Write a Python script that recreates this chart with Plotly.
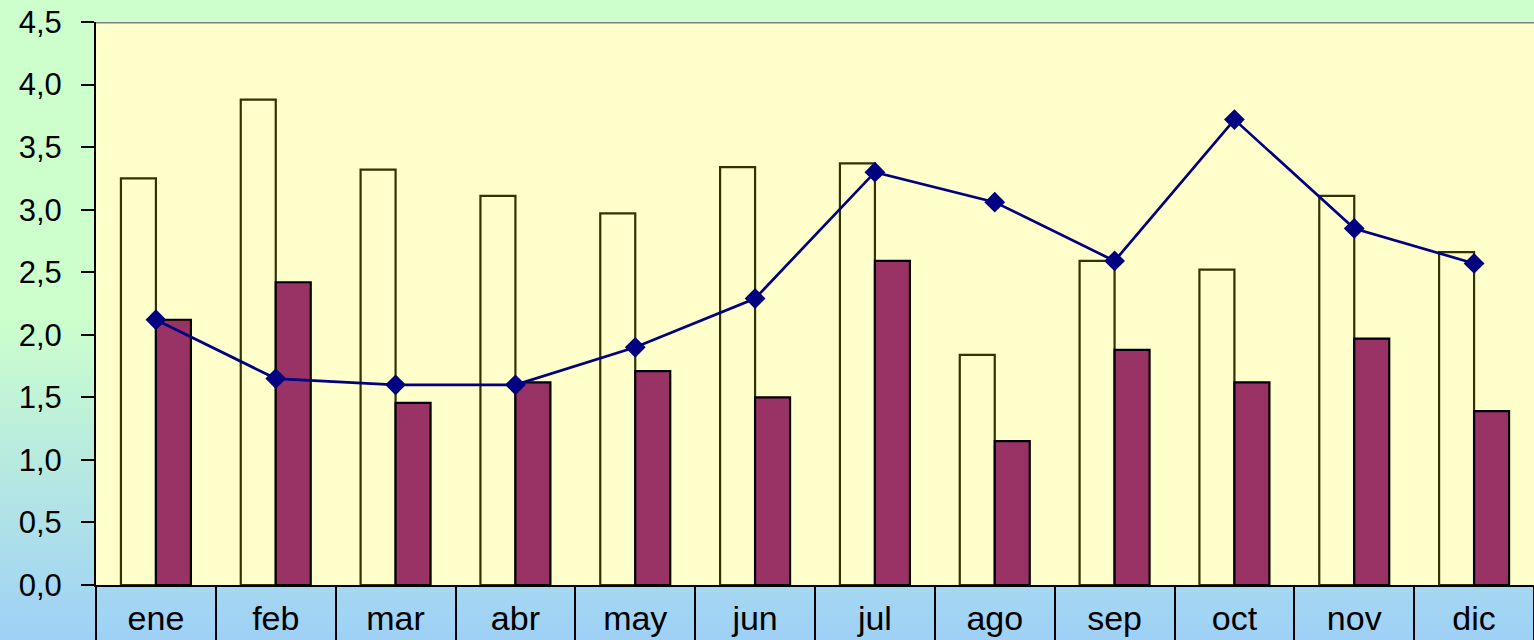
import plotly.graph_objects as go

meses = ["ene", "feb", "mar", "abr", "may", "jun", "jul", "ago", "sep", "oct", "nov", "dic"]
serie_clara = [3.25, 3.88, 3.32, 3.11, 2.97, 3.34, 3.37, 1.84, 2.59, 2.52, 3.11, 2.66]
serie_granate = [2.12, 2.42, 1.455, 1.62, 1.71, 1.50, 2.59, 1.15, 1.88, 1.62, 1.97, 1.39]
serie_linea = [2.12, 1.65, 1.60, 1.60, 1.90, 2.29, 3.30, 3.06, 2.59, 3.72, 2.85, 2.57]
y_ticks = [0, 0.5, 1.0, 1.5, 2.0, 2.5, 3.0, 3.5, 4.0, 4.5]
y_tick_text = [f"{v:.1f}".replace(".", ",") for v in y_ticks]

W, H = 1534, 640
ML, MR, MT, MB = 96, 0, 22, 55
plot_h = H - MT - MB
plot_w = W - ML - MR

fig = go.Figure()
fig.add_trace(go.Bar(
    x=meses, y=serie_clara,
    marker=dict(color="#FFFFCC", line=dict(color="#333300", width=2.2)),
))
fig.add_trace(go.Bar(
    x=meses, y=serie_granate,
    marker=dict(color="#993366", line=dict(color="#000000", width=2.2)),
))
fig.add_trace(go.Scatter(
    x=meses, y=serie_linea, mode="lines+markers",
    line=dict(color="#000080", width=2.7),
    marker=dict(symbol="diamond", size=16, color="#000080"),
))

# background gradient: pale green fading to light blue toward the bottom
shapes = []
def mix(c1, c2, t):
    return "rgb({},{},{})".format(*[round(a + (b - a) * t) for a, b in zip(c1, c2)])
top_c = (204, 255, 204)
bot_c = (158, 208, 248)
step = 8
for py in range(0, H, step):
    mid = py + step / 2
    t = 0.0 if mid < 320 else (mid - 320) / (H - 320)
    shapes.append(dict(
        type="rect", xref="paper", yref="paper", layer="below",
        x0=-ML / plot_w - 0.01, x1=1.01,
        y0=(H - MB - (py + step)) / plot_h, y1=(H - MB - py) / plot_h,
        fillcolor=mix(top_c, bot_c, t), line=dict(width=0),
    ))
# plot area fill
shapes.append(dict(type="rect", xref="paper", yref="paper", layer="below",
                   x0=0, x1=1, y0=0, y1=1, fillcolor="#FFFFCC", line=dict(width=0)))
# grey top border
shapes.append(dict(type="line", xref="paper", yref="y", x0=0, x1=1, y0=4.5, y1=4.5,
                   line=dict(color="#808080", width=3)))

fig.update_layout(
    width=W, height=H,
    margin=dict(l=ML, r=MR, t=MT, b=MB),
    paper_bgcolor="#CCFFCC",
    plot_bgcolor="rgba(0,0,0,0)",
    barmode="group",
    bargap=0.416,
    bargroupgap=0,
    showlegend=False,
    shapes=shapes,
    font=dict(family="Liberation Sans, Arial, sans-serif", size=32, color="#000000"),
    xaxis=dict(
        type="category", range=[-0.5, 11.5], automargin=False,
        showline=True, linecolor="#000000", linewidth=2,
        ticks="outside", tickson="boundaries", ticklen=56, tickwidth=2, tickcolor="#000000",
        ticklabelstandoff=2,
        showgrid=False, zeroline=False,
        tickfont=dict(size=34),
    ),
    yaxis=dict(
        range=[0, 4.5], tickvals=y_ticks, ticktext=y_tick_text, automargin=False,
        showline=True, linecolor="#000000", linewidth=2,
        ticks="outside", ticklen=13, tickwidth=2, tickcolor="#000000",
        showgrid=False, zeroline=False,
        tickfont=dict(size=31), ticklabelstandoff=13,
    ),
    yaxis2=dict(
        range=[0, 4.5], tickvals=y_ticks, overlaying="y", side="left", automargin=False,
        showline=False, ticks="inside", ticklen=10, tickwidth=2, tickcolor="#000000",
        showticklabels=False, showgrid=False, zeroline=False,
    ),
)

fig.write_html("out.html")
